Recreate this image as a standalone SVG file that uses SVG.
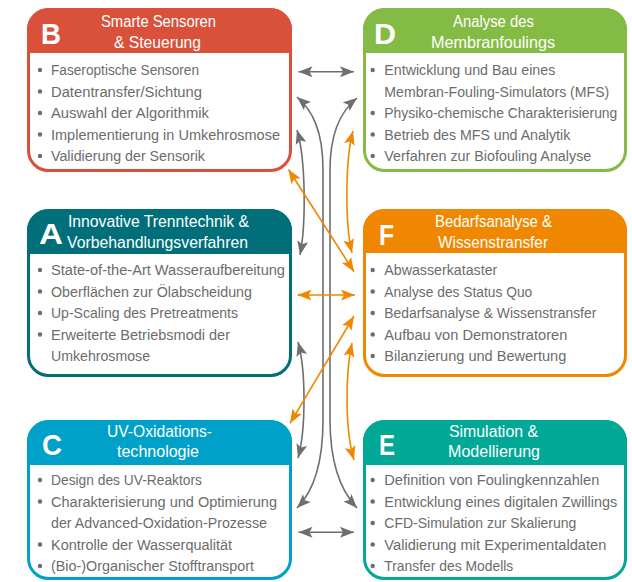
<svg xmlns="http://www.w3.org/2000/svg" width="632" height="582" viewBox="0 0 632 582">
<defs>
<style>
text{font-family:"Liberation Sans",Arial,sans-serif}
.hdr{font-size:16px;fill:#fff}
.ltr{font-size:30px;font-weight:bold;fill:#fff}
.it{font-size:15.5px;fill:#6c6c6c}
.dot{fill:#6c6c6c}
.body{fill:#fff;stroke-width:3}
.g{fill:none;stroke:#6e6e6e;stroke-width:1.6;marker-start:url(#ag);marker-end:url(#ag)}
.o{fill:none;stroke:#ef8700;stroke-width:1.6;marker-start:url(#ao);marker-end:url(#ao)}
</style>
<marker id="ag" markerUnits="userSpaceOnUse" markerWidth="15" markerHeight="12" refX="14" refY="5.5" orient="auto-start-reverse" viewBox="0 0 15 11">
<path d="M0,0 L14,5.5 L0,11 L3,5.5 Z" fill="#6e6e6e"/>
</marker>
<marker id="ao" markerUnits="userSpaceOnUse" markerWidth="15" markerHeight="12" refX="14" refY="5.5" orient="auto-start-reverse" viewBox="0 0 15 11">
<path d="M0,0 L14,5.5 L0,11 L3,5.5 Z" fill="#ef8700"/>
</marker>
</defs>

<g id="connectors">
<path class="g" d="M298.5,71.7 L354,71.7"/>
<path class="g" d="M297,97 C312,110 323,130 323,170 L323,420 C323,460 315,490 297,508"/>
<path class="g" d="M357,98 C342,110 330,130 330,170 L330,420 C330,460 340,490 357,508"/>
<path class="g" d="M297,130 C306,160 306,225 300,255"/>
<path class="g" d="M298,342 C306,370 306,430 298,458"/>
<path class="g" d="M298.5,532.3 L354,532.3"/>
<path class="o" d="M353,131 C345,160 345,225 352,253"/>
<path class="o" d="M352,343 C345,375 345,430 354,460"/>
<path class="o" d="M288.5,169.5 L354,271.7"/>
<path class="o" d="M354,316 L290,423.3"/>
<path class="o" d="M297.5,295 L355,295"/>
</g>

<g id="node-B">
<rect class="body" x="28.5" y="9.5" width="262" height="161" rx="20" stroke="#d9513a"/>
<path d="M27,53 V30 A22,22 0 0 1 49,8 H270 A22,22 0 0 1 292,30 V53 Z" fill="#d9513a"/>
<text class="ltr" x="41" y="44.3" textLength="20" lengthAdjust="spacingAndGlyphs">B</text>
<text class="hdr" x="158.5" y="27" text-anchor="middle" textLength="115" lengthAdjust="spacingAndGlyphs">Smarte Sensoren</text>
<text class="hdr" x="157.5" y="48" text-anchor="middle" textLength="87" lengthAdjust="spacingAndGlyphs">&amp; Steuerung</text>
<circle class="dot" cx="40" cy="70" r="2.2"/><text class="it" x="51" y="75" textLength="148" lengthAdjust="spacingAndGlyphs">Faseroptische Sensoren</text>
<circle class="dot" cx="40" cy="91.5" r="2.2"/><text class="it" x="51" y="96.5" textLength="151" lengthAdjust="spacingAndGlyphs">Datentransfer/Sichtung</text>
<circle class="dot" cx="40" cy="113" r="2.2"/><text class="it" x="51" y="118" textLength="158" lengthAdjust="spacingAndGlyphs">Auswahl der Algorithmik</text>
<circle class="dot" cx="40" cy="134.5" r="2.2"/><text class="it" x="51" y="139.5" textLength="229" lengthAdjust="spacingAndGlyphs">Implementierung in Umkehrosmose</text>
<circle class="dot" cx="40" cy="156" r="2.2"/><text class="it" x="51" y="161" textLength="154" lengthAdjust="spacingAndGlyphs">Validierung der Sensorik</text>
</g>

<g id="node-D">
<rect class="body" x="364.5" y="9.5" width="261" height="161" rx="20" stroke="#84bb44"/>
<path d="M363,53 V30 A22,22 0 0 1 385,8 H605 A22,22 0 0 1 627,30 V53 Z" fill="#84bb44"/>
<text class="ltr" x="374" y="44.3" textLength="22" lengthAdjust="spacingAndGlyphs">D</text>
<text class="hdr" x="493.5" y="27" text-anchor="middle" textLength="81" lengthAdjust="spacingAndGlyphs">Analyse des</text>
<text class="hdr" x="493" y="48" text-anchor="middle" textLength="124" lengthAdjust="spacingAndGlyphs">Membranfoulings</text>
<circle class="dot" cx="372.7" cy="70" r="2.2"/><text class="it" x="384.3" y="75" textLength="171" lengthAdjust="spacingAndGlyphs">Entwicklung und Bau eines</text>
<text class="it" x="384.3" y="96.5" textLength="225" lengthAdjust="spacingAndGlyphs">Membran-Fouling-Simulators (MFS)</text>
<circle class="dot" cx="372.7" cy="113" r="2.2"/><text class="it" x="384.3" y="118" textLength="233" lengthAdjust="spacingAndGlyphs">Physiko-chemische Charakterisierung</text>
<circle class="dot" cx="372.7" cy="134.5" r="2.2"/><text class="it" x="384.3" y="139.5" textLength="186" lengthAdjust="spacingAndGlyphs">Betrieb des MFS und Analytik</text>
<circle class="dot" cx="372.7" cy="156" r="2.2"/><text class="it" x="384.3" y="161" textLength="207" lengthAdjust="spacingAndGlyphs">Verfahren zur Biofouling Analyse</text>
</g>

<g id="node-A">
<rect class="body" x="28.5" y="210.5" width="262" height="165" rx="20" stroke="#006f7a"/>
<path d="M27,254 V231 A22,22 0 0 1 49,209 H270 A22,22 0 0 1 292,231 V254 Z" fill="#006f7a"/>
<text class="ltr" x="39" y="244.3" textLength="24" lengthAdjust="spacingAndGlyphs">A</text>
<text class="hdr" x="68" y="227" textLength="181" lengthAdjust="spacingAndGlyphs">Innovative Trenntechnik &amp;</text>
<text class="hdr" x="67" y="248" textLength="181" lengthAdjust="spacingAndGlyphs">Vorbehandlungsverfahren</text>
<circle class="dot" cx="40" cy="270" r="2.2"/><text class="it" x="51" y="275" textLength="234" lengthAdjust="spacingAndGlyphs">State-of-the-Art Wasseraufbereitung</text>
<circle class="dot" cx="40" cy="291.5" r="2.2"/><text class="it" x="51" y="296.5" textLength="201" lengthAdjust="spacingAndGlyphs">Oberflächen zur Ölabscheidung</text>
<circle class="dot" cx="40" cy="313" r="2.2"/><text class="it" x="51" y="318" textLength="187" lengthAdjust="spacingAndGlyphs">Up-Scaling des Pretreatments</text>
<circle class="dot" cx="40" cy="334.5" r="2.2"/><text class="it" x="51" y="339.5" textLength="179" lengthAdjust="spacingAndGlyphs">Erweiterte Betriebsmodi der</text>
<text class="it" x="51" y="361" textLength="99" lengthAdjust="spacingAndGlyphs">Umkehrosmose</text>
</g>

<g id="node-F">
<rect class="body" x="364.5" y="210.5" width="261" height="165" rx="20" stroke="#ef8700"/>
<path d="M363,253 V231 A22,22 0 0 1 385,209 H605 A22,22 0 0 1 627,231 V253 Z" fill="#ef8700"/>
<text class="ltr" x="379" y="245" textLength="15" lengthAdjust="spacingAndGlyphs">F</text>
<text class="hdr" x="493.5" y="227" text-anchor="middle" textLength="117" lengthAdjust="spacingAndGlyphs">Bedarfsanalyse &amp;</text>
<text class="hdr" x="493" y="248" text-anchor="middle" textLength="110" lengthAdjust="spacingAndGlyphs">Wissenstransfer</text>
<circle class="dot" cx="372.7" cy="270" r="2.2"/><text class="it" x="384.3" y="275" textLength="113" lengthAdjust="spacingAndGlyphs">Abwasserkataster</text>
<circle class="dot" cx="372.7" cy="291.5" r="2.2"/><text class="it" x="384.3" y="296.5" textLength="148" lengthAdjust="spacingAndGlyphs">Analyse des Status Quo</text>
<circle class="dot" cx="372.7" cy="313" r="2.2"/><text class="it" x="384.3" y="318" textLength="212" lengthAdjust="spacingAndGlyphs">Bedarfsanalyse &amp; Wissenstransfer</text>
<circle class="dot" cx="372.7" cy="334.5" r="2.2"/><text class="it" x="384.3" y="339.5" textLength="183" lengthAdjust="spacingAndGlyphs">Aufbau von Demonstratoren</text>
<circle class="dot" cx="372.7" cy="356" r="2.2"/><text class="it" x="384.3" y="361" textLength="182" lengthAdjust="spacingAndGlyphs">Bilanzierung und Bewertung</text>
</g>

<g id="node-C">
<rect class="body" x="28.5" y="421.5" width="262" height="157" rx="20" stroke="#00a1c9"/>
<path d="M27,465 V442 A22,22 0 0 1 49,420 H270 A22,22 0 0 1 292,442 V465 Z" fill="#00a1c9"/>
<text class="ltr" x="42" y="455" textLength="20" lengthAdjust="spacingAndGlyphs">C</text>
<text class="hdr" x="159.5" y="437" text-anchor="middle" textLength="105" lengthAdjust="spacingAndGlyphs">UV-Oxidations-</text>
<text class="hdr" x="158" y="457" text-anchor="middle" textLength="82" lengthAdjust="spacingAndGlyphs">technologie</text>
<circle class="dot" cx="40" cy="480" r="2.2"/><text class="it" x="51" y="485" textLength="151" lengthAdjust="spacingAndGlyphs">Design des UV-Reaktors</text>
<circle class="dot" cx="40" cy="501.5" r="2.2"/><text class="it" x="51" y="506.5" textLength="226" lengthAdjust="spacingAndGlyphs">Charakterisierung und Optimierung</text>
<text class="it" x="51" y="528" textLength="216" lengthAdjust="spacingAndGlyphs">der Advanced-Oxidation-Prozesse</text>
<circle class="dot" cx="40" cy="544.5" r="2.2"/><text class="it" x="51" y="549.5" textLength="181" lengthAdjust="spacingAndGlyphs">Kontrolle der Wasserqualität</text>
<circle class="dot" cx="40" cy="566" r="2.2"/><text class="it" x="51" y="571" textLength="203" lengthAdjust="spacingAndGlyphs">(Bio-)Organischer Stofftransport</text>
</g>

<g id="node-E">
<rect class="body" x="364.5" y="421.5" width="261" height="157" rx="20" stroke="#00a895"/>
<path d="M363,465 V442 A22,22 0 0 1 385,420 H605 A22,22 0 0 1 627,442 V465 Z" fill="#00a895"/>
<text class="ltr" x="379" y="454.5" textLength="16" lengthAdjust="spacingAndGlyphs">E</text>
<text class="hdr" x="493.5" y="437" text-anchor="middle" textLength="89" lengthAdjust="spacingAndGlyphs">Simulation &amp;</text>
<text class="hdr" x="494" y="457" text-anchor="middle" textLength="92" lengthAdjust="spacingAndGlyphs">Modellierung</text>
<circle class="dot" cx="372.7" cy="480" r="2.2"/><text class="it" x="384.3" y="485" textLength="215" lengthAdjust="spacingAndGlyphs">Definition von Foulingkennzahlen</text>
<circle class="dot" cx="372.7" cy="501.5" r="2.2"/><text class="it" x="384.3" y="506.5" textLength="233" lengthAdjust="spacingAndGlyphs">Entwicklung eines digitalen Zwillings</text>
<circle class="dot" cx="372.7" cy="523" r="2.2"/><text class="it" x="384.3" y="528" textLength="192" lengthAdjust="spacingAndGlyphs">CFD-Simulation zur Skalierung</text>
<circle class="dot" cx="372.7" cy="544.5" r="2.2"/><text class="it" x="384.3" y="549.5" textLength="222" lengthAdjust="spacingAndGlyphs">Validierung mit Experimentaldaten</text>
<circle class="dot" cx="372.7" cy="566" r="2.2"/><text class="it" x="384.3" y="571" textLength="129" lengthAdjust="spacingAndGlyphs">Transfer des Modells</text>
</g>
</svg>
